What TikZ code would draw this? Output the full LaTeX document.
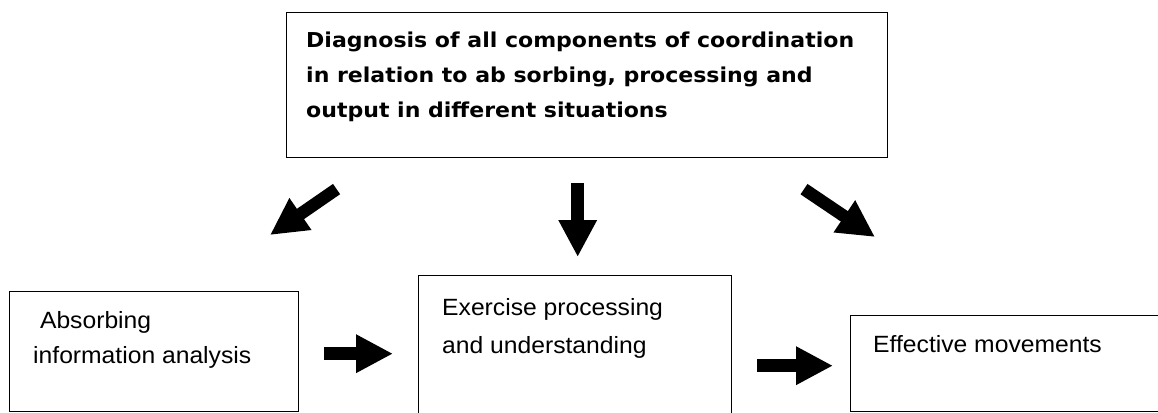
\documentclass[tikz,border=0pt]{standalone}
\usepackage{fontspec}
\setmainfont{Liberation Sans}
\newfontfamily\boxfont[FakeStretch=1.05]{Liberation Sans}
\newfontfamily\headfont[FakeStretch=1.075]{DejaVu Sans}
\usetikzlibrary{positioning,arrows.meta}

\tikzset{
  stepbox/.style={draw, line width=1.4pt, rectangle, inner sep=0pt, anchor=north west},
  boxtext/.style={inner sep=0pt, align=left, anchor=base west,
    font=\boxfont\fontsize{23.5}{35}\selectfont},
  fatarrow/.style={line width=12.5pt, -{Triangle[length=37pt,width=36pt]}},
}

\begin{document}
\begin{tikzpicture}[x=1pt,y=-1pt]
            \clip (0,0) rectangle (1158,412);
            % Boxes
            \node[stepbox, minimum width=601pt, minimum height=145pt] (diag) at (286,12) {};
            \node[stepbox, minimum width=289pt, minimum height=120pt] (absorb) at (9,291) {};
            \node[stepbox, minimum width=313pt, minimum height=150pt] (exer) at (418,275) {};
            \node[stepbox, minimum width=330pt, minimum height=96pt] (effect) at (850,315) {};
            % Texts (anchored at the last baseline)
            \node[boxtext, font=\headfont\bfseries\fontsize{20.5}{35}\selectfont] (diagtext) at (306,117)
                {Diagnosis of all components of coordination\\in relation to ab sorbing, processing and\\output in different situations};
            \node[boxtext] (absorbtext) at (33,363) {\ Absorbing\\information analysis};
            \node[boxtext, font=\boxfont\fontsize{23.5}{38}\selectfont] (exertext) at (442,353) {Exercise processing\\and understanding};
            \node[boxtext] (effecttext) at (873,352) {Effective movements};
            % Arrows
            \coordinate (tipL) at (270,235);
            \coordinate (tipR) at (875,237);
            \draw[fatarrow, shorten <=54pt] ([xshift=95pt]diag.south west) -- (tipL);
            \draw[fatarrow, shorten <=55pt] ([xshift=-130pt]diag.south east) -- (tipR);
            \draw[fatarrow, shorten <=25pt, shorten >=18pt] ([xshift=-9.5pt]diag.south) -- ([xshift=2.5pt]exer.north);
            \draw[fatarrow, shorten <=25pt, shorten >=25pt] ([yshift=-2pt]absorb.east) -- ([yshift=-2pt]absorb.east -| exer.west);
            \draw[fatarrow, shorten <=25pt, shorten >=17pt] ([yshift=-2pt]effect.west -| exer.east) -- ([yshift=-2pt]effect.west);
\end{tikzpicture}
\end{document}
